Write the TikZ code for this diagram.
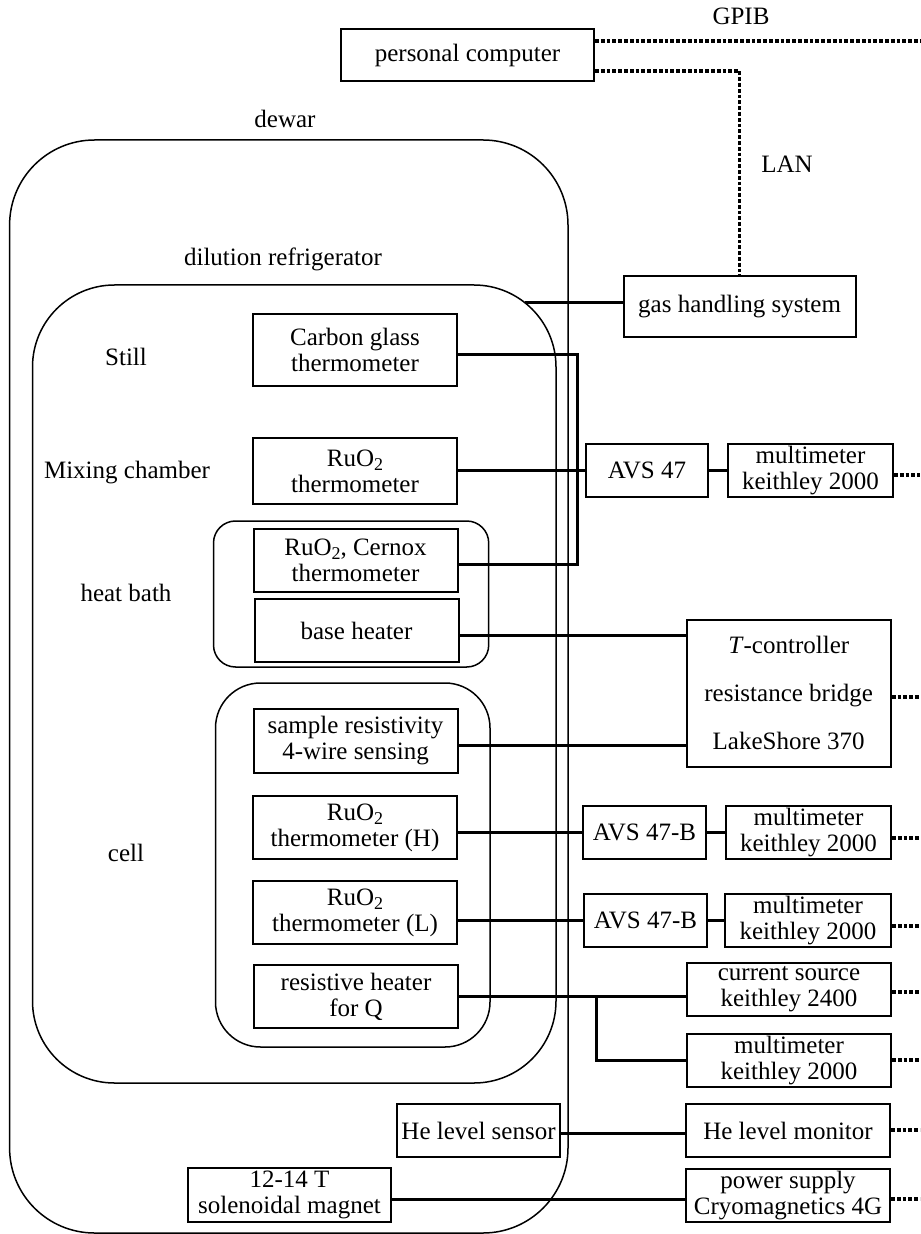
\documentclass[tikz,border=0pt]{standalone}
\usepackage{fontspec}
\setmainfont{Liberation Serif}
\newcommand\subtwo{\raisebox{-0.35ex}{\fontsize{9}{9}\selectfont 2}}
\begin{document}
\begin{tikzpicture}[x=0.5pt,y=-0.5pt,
  every node/.style={font=\fontsize{12.5}{13}\selectfont, inner sep=0pt, align=center},
  ibox/.style={draw, line width=1pt, minimum width=102pt, minimum height=31.5pt},
  encl/.style={draw, line width=0.75pt},
  conn/.style={line width=1.5pt},
  bus/.style={line width=1.6pt, dash pattern=on 1.9pt off 1pt}]
\useasboundingbox (0,0) rectangle (920,1234);

% enclosures
\node[encl, rounded corners=42.5pt, minimum width=279.2pt, minimum height=546.5pt] (dewar) at (288.8,686.5) {};
\node[encl, rounded corners=41pt, minimum width=261.75pt, minimum height=399pt] (dil) at (294.25,684) {};
\node[encl, rounded corners=11pt, minimum width=137.6pt, minimum height=73pt] (bath) at (351.1,594) {};
\node[encl, rounded corners=22.5pt, minimum width=137.25pt, minimum height=182pt] (cellbox) at (352.75,865) {};

% labels
\node (lgpib) at (741,16) {GPIB};
\node (llan) at (787,164) {LAN};
\node (ldewar) at (285,119) {dewar};
\node (ldil) at (283,259) {dilution refrigerator};
\node (lstill) at (126,357) {Still};
\node (lmix) at (127,473) {Mixing chamber};
\node (lbath) at (126,593) {heat bath};
\node (lcell) at (126,853) {cell};

% boxes inside
\node[ibox, minimum width=126.5pt, minimum height=26pt] (pc) at (467.5,55) {personal computer};
\node[ibox, minimum height=36pt] (carbon) at (355,350) {Carbon glass\\thermometer};
\node[ibox, minimum height=33pt] (ruomc) at (355,471) {RuO\subtwo\\thermometer};
\node[ibox] (cernox) at (355.5,560.5) {RuO\subtwo, Cernox\\thermometer};
\node[ibox] (bheater) at (356.5,630.5) {base heater};
\node[ibox, minimum height=32pt] (sample) at (355.5,741) {sample resistivity\\4-wire sensing};
\node[ibox] (ruoh) at (355,827.5) {RuO\subtwo\\thermometer (H)};
\node[ibox] (ruol) at (355,912.5) {RuO\subtwo\\thermometer (L)};
\node[ibox] (heater) at (356,996.5) {resistive heater\\for Q};
\node[ibox, minimum width=81.5pt, minimum height=26.5pt] (hesens) at (478.5,1130.5) {He level sensor};
\node[ibox, minimum width=101.5pt, minimum height=27pt] (magnet) at (289.5,1195) {12-14 T\\solenoidal magnet};

% boxes outside
\node[ibox, minimum width=116pt, minimum height=30.5pt] (gas) at (739.6,306.5) {gas handling system};
\node[ibox, minimum width=61pt, minimum height=26.5pt] (avs) at (647,470.5) {AVS 47};
\node[ibox, minimum width=82.5pt, minimum height=26.5pt] (mma) at (810.5,470.5) {multimeter\\keithley 2000};
\node[ibox, minimum height=73.5pt, font=\fontsize{12.5}{24}\selectfont] (ls) at (788.7,693.3) {\textit{T}-controller\\resistance bridge\\LakeShore 370};
\node[ibox, minimum width=61.5pt, minimum height=26.5pt] (avsb) at (644.5,832.5) {AVS 47-B};
\node[ibox, minimum width=82.5pt, minimum height=26.5pt] (mmb) at (808.5,832.5) {multimeter\\keithley 2000};
\node[ibox, minimum width=61.5pt, minimum height=26.5pt] (avsc) at (645.5,920.5) {AVS 47-B};
\node[ibox, minimum width=83pt, minimum height=26.5pt] (mmc) at (808,920.5) {multimeter\\keithley 2000};
\node[ibox, minimum height=26.5pt] (cur) at (789,989.5) {current source\\keithley 2400};
\node[ibox, minimum height=26.5pt] (mmd) at (789,1060.5) {multimeter\\keithley 2000};
\node[ibox, minimum height=26.5pt] (helm) at (788,1130.5) {He level monitor};
\node[ibox, minimum height=26.5pt] (pow) at (788,1195.5) {power supply\\Cryomagnetics 4G};

% coordinates
\coordinate (gasend) at (525,303);
\coordinate (bk1) at (577,355);
\coordinate (bk2) at (577,564);
\coordinate (br) at (596,996);
\coordinate (e0) at (920,41);
\coordinate (e1) at (920,475);
\coordinate (e2) at (920,697);
\coordinate (e3) at (920,838);
\coordinate (e4) at (920,926);
\coordinate (e5) at (920,992);
\coordinate (e6) at (920,1060);
\coordinate (e7) at (920,1130);
\coordinate (e8) at (920,1199);

% connectors
\draw[bus] (pc.east |- e0) -- (e0);
\draw[bus] (pc.east |- 0,71) -| (gas.north);
\draw[conn] (gasend) -- (gas.west |- gasend);
\draw[conn] (carbon.east |- bk1) -- (bk1) -- (bk2) -- (cernox.east |- bk2);
\draw[conn] (ruomc.east) -- (avs.west |- ruomc.east);
\draw[conn] (avs) -- (mma);
\draw[bus] (mma.east |- e1) -- (e1);
\draw[conn] (bheater.east |- 0,635) -- (ls.west |- 0,635);
\draw[conn] (sample.east |- 0,745) -- (ls.west |- 0,745);
\draw[bus] (ls.east |- e2) -- (e2);
\draw[conn] (ruoh.east |- avsb.west) -- (avsb.west);
\draw[conn] (avsb) -- (mmb);
\draw[bus] (mmb.east |- e3) -- (e3);
\draw[conn] (ruol.east |- avsc.west) -- (avsc.west);
\draw[conn] (avsc) -- (mmc);
\draw[bus] (mmc.east |- e4) -- (e4);
\draw[conn] (heater.east |- br) -- (cur.west |- br);
\draw[conn] (br) |- (mmd.west);
\draw[bus] (cur.east |- e5) -- (e5);
\draw[bus] (mmd.east |- e6) -- (e6);
\draw[conn] (hesens.east |- 0,1133) -- (helm.west |- 0,1133);
\draw[bus] (helm.east |- e7) -- (e7);
\draw[conn] (magnet.east |- 0,1199) -- (pow.west |- 0,1199);
\draw[bus] (pow.east |- e8) -- (e8);
\end{tikzpicture}
\end{document}
